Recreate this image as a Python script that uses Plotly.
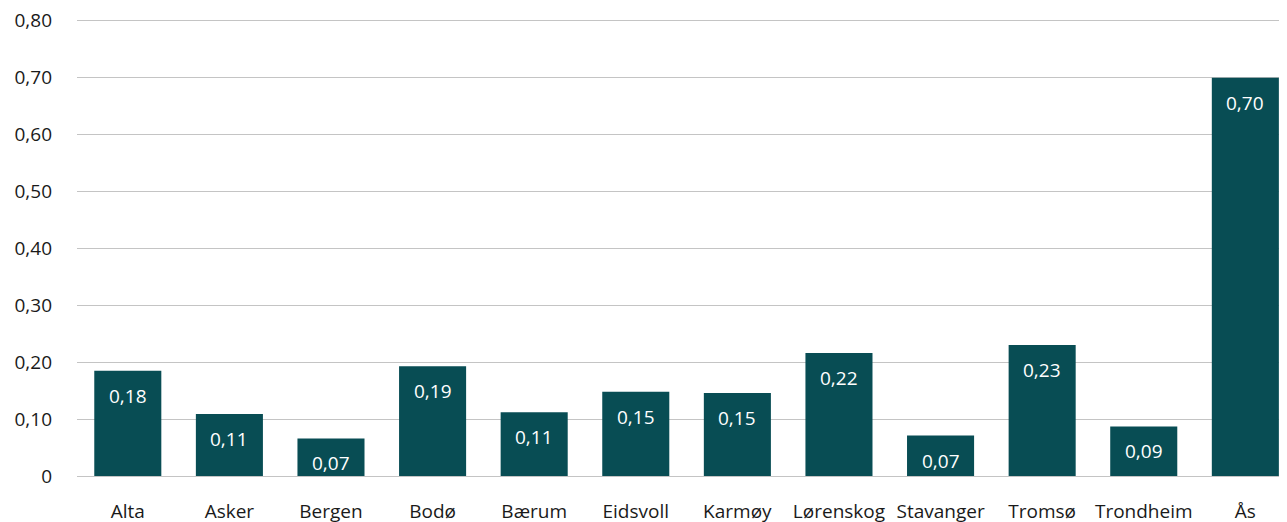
import plotly.graph_objects as go

# Data
kommuner = ['Alta', 'Asker', 'Bergen', 'Bodø', 'Bærum', 'Eidsvoll', 'Karmøy',
            'Lørenskog', 'Stavanger', 'Tromsø', 'Trondheim', 'Ås']
verdier = [0.185, 0.109, 0.066, 0.193, 0.112, 0.148, 0.146,
           0.216, 0.071, 0.230, 0.087, 0.70]
y_ticks = [0, 0.1, 0.2, 0.3, 0.4, 0.5, 0.6, 0.7, 0.8]
y_ticktext = ['0', '0,10', '0,20', '0,30', '0,40', '0,50', '0,60', '0,70', '0,80']

font_family = 'Open Sans, Noto Sans, sans-serif'
bar_color = '#084d54'

fig = go.Figure(go.Bar(
    x=kommuner,
    y=verdier,
    marker=dict(color=bar_color, line=dict(width=0)),
    hovertemplate='%{x}: %{y:.2f}<extra></extra>',
))

# value labels inside the bars, near the top
for k, v in zip(kommuner, verdier):
    fig.add_annotation(
        x=k, y=v, text=f'{v:.2f}'.replace('.', ','),
        showarrow=False, yanchor='middle', yshift=-25,
        font=dict(family=font_family, size=19, color='white', weight=500),
    )

# page body has an 8px margin, so the figure is sized to fit inside the window
# range goes a bit above 0.8 so the top gridline is drawn
fig.update_layout(
    width=1279, height=514,
    margin=dict(l=69, r=0, t=9, b=46),
    plot_bgcolor='white', paper_bgcolor='white',
    bargap=0.34,
    showlegend=False,
    separators=', ',
    font=dict(family=font_family, size=19, color='#1a1a1a', weight=500),
)
fig.update_xaxes(
    range=[-0.5, 11.41],
    showgrid=False, showline=False, ticks='',
    ticklabelstandoff=22, automargin=False,
    ticklabeloverflow='allow',
)
fig.update_yaxes(
    range=[0, 0.8066],
    tickvals=y_ticks, ticktext=y_ticktext,
    showgrid=True, gridcolor='#c4c4c4', gridwidth=1.3,
    zeroline=True, zerolinecolor='#c4c4c4', zerolinewidth=1.3,
    showline=False, ticks='',
    ticklabelstandoff=24, automargin=False,
    ticklabeloverflow='allow',
)

fig.write_html('out.html')
